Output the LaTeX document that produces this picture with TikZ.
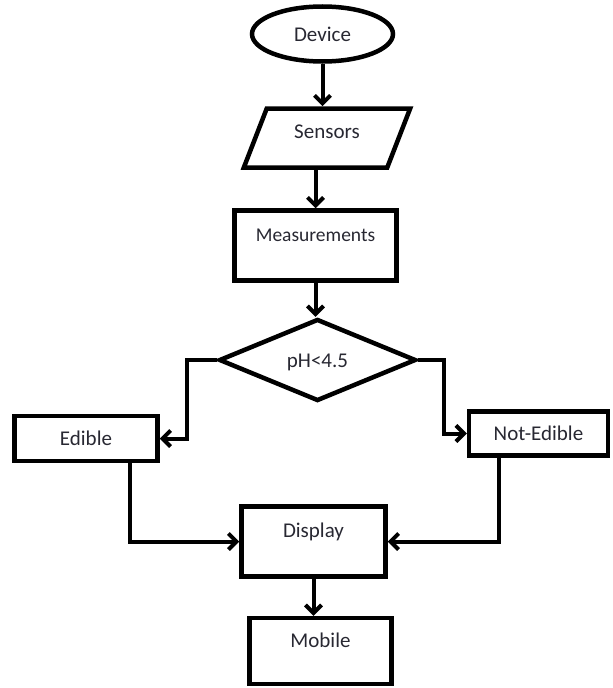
\documentclass[tikz,border=0pt]{standalone}
\usepackage{fontspec}
\setmainfont{Carlito}
\usetikzlibrary{shapes.geometric,arrows.meta}
\definecolor{txtgray}{RGB}{40,40,50}

\begin{document}
\begin{tikzpicture}[x=1pt,y=-1pt,
    every node/.style={font=\fontsize{21}{25}\selectfont,text=txtgray,inner sep=0pt,
      text height=14pt,text depth=0pt},
    shp/.style={draw=black,line width=4.5pt},
    box/.style={shp,rectangle},
    tallbox/.style={box,text depth=22pt},
    arr/.style={line width=4pt,-{Straight Barb[length=8pt,width=16pt]}}]
      \useasboundingbox (0,0) rectangle (613,688) ;
      \node[shp,ellipse,minimum width=141pt,minimum height=55pt] %
      (Dev) at (322.5,34) {Device} ;
      \node[shp,trapezium,trapezium left angle=66,trapezium right angle=114,%
      trapezium stretches=true,minimum width=167pt,minimum height=59pt,%
      text depth=14pt] (Sen) at (327,138) {Sensors} ;
      \node[tallbox,minimum width=162pt,minimum height=70pt,%
      font=\fontsize{19.5}{23}\selectfont] (Meas) at (315.5,245.5) {Measurements} ;
      \node[shp,diamond,minimum width=197pt,minimum height=82pt] %
      (Dec) at (317.5,360) {pH<4.5} ;
      \node[box,minimum width=143pt,minimum height=45pt] (Ed) at (86,438.5) {Edible} ;
      \node[box,minimum width=139pt,minimum height=44pt] (Ned) at (538.5,433.5) {Not-Edible} ;
      \node[tallbox,minimum width=144pt,minimum height=70pt] (Disp) at (313.5,541.5) {Display} ;
      \node[tallbox,minimum width=142pt,minimum height=66pt] (Mob) at (320.5,651) {Mobile} ;
      \draw[arr] (Dev.south) -- (Dev.south |- Sen.north) ;
      \draw[arr] (Meas.north |- Sen.south) -- (Meas.north) ;
      \draw[arr] (Meas.south) -- (Meas.south |- Dec.north) ;
      \draw[arr] (Dec.west) -- ++(-30,0) |- (Ed.east) ;
      \draw[arr] (Dec.east) -- ++(26,0) |- (Ned.west) ;
      \draw[arr] ([xshift=44pt]Ed.south) |- (Disp.west) ;
      \draw[arr] ([xshift=-39.5pt]Ned.south) |- (Disp.east) ;
      \draw[arr] (Disp.south) -- (Disp.south |- Mob.north) ;
    \end{tikzpicture}
\end{document}
